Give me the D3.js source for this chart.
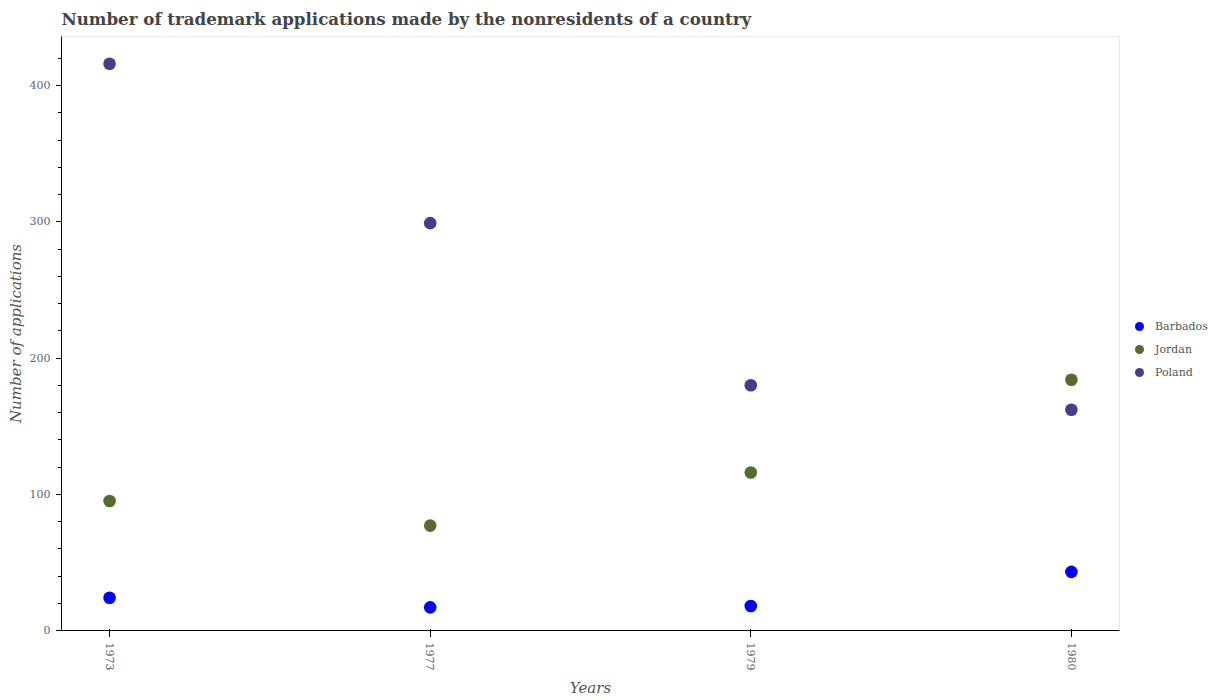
<!DOCTYPE html>
<html>
<head>
<meta charset="utf-8">
<script src="https://cdn.jsdelivr.net/npm/d3@7"></script>
<style>
  body { margin: 0; background: #fff; }
  text { font-family: "DejaVu Serif", serif; }
</style>
</head>
<body>
<svg width="1217" height="700"></svg>
<script>
// values
var years = ["1973", "1977", "1979", "1980"];
var barbados = [24, 17, 18, 43];
var jordan = [95, 77, 116, 184];
var poland = [416, 299, 180, 162];
var seriesNames = ["Barbados", "Jordan", "Poland"];
var seriesColors = ["#0000ff", "#556b2f", "#483d8b"];
var seriesValues = [barbados, jordan, poland];
var yMajor = [0, 100, 200, 300, 400];
var yMinor = d3.range(0, 437, 20);

var margin = {top: 36.5, right: 97.5, bottom: 69.5, left: 61.5},
  width = 1217 - margin.left - margin.right,
  height = 700 - margin.top - margin.bottom;

var svg = d3.select("svg");

var x = d3.scalePoint().domain(years).range([margin.left, margin.left + width]).padding(0.15);
var y = d3.scaleLinear().domain([0, 436]).range([margin.top + height, margin.top]);

// plot frame, only top and right show
svg.append("path")
  .attr("d", "M" + margin.left + "," + margin.top + "H" + (margin.left + width) + "V" + (margin.top + height))
  .attr("fill", "none")
  .attr("stroke", "#e6e6e6")
  .attr("stroke-width", 1);

// minor ticks
svg.append("g")
  .attr("transform", "translate(" + margin.left + ",0)")
  .call(d3.axisLeft(y).offset(0).tickValues(yMinor).tickSize(4).tickFormat(""))
  .call(function(g) { g.select(".domain").remove(); })
  .selectAll("line").attr("shape-rendering", "crispEdges");

// y axis
var yAxis = svg.append("g")
  .attr("transform", "translate(" + margin.left + ",0)")
  .call(d3.axisLeft(y).offset(0).tickValues(yMajor).tickSize(6).tickPadding(5).tickSizeOuter(0));
yAxis.selectAll("line").attr("shape-rendering", "crispEdges");
yAxis.selectAll("text").attr("font-size", 11).attr("fill", "#666").style("font-family", '"DejaVu Serif", serif');

// x axis, ticks cross the line
var xAxis = svg.append("g")
  .attr("transform", "translate(0," + (margin.top + height) + ")")
  .call(d3.axisBottom(x).offset(0).tickSize(6).tickSizeOuter(0));
xAxis.selectAll(".tick line").attr("y1", -2).attr("y2", 6).attr("shape-rendering", "crispEdges");
xAxis.selectAll(".tick text")
  .attr("transform", "rotate(90)")
  .attr("x", 12)
  .attr("y", 0)
  .attr("dy", "0.35em")
  .attr("text-anchor", "start")
  .attr("font-size", 11)
  .attr("fill", "#666")
  .style("font-family", '"DejaVu Serif", serif');

// points
seriesValues.forEach(function(vals, i) {
  svg.append("g").selectAll("circle")
    .data(vals)
    .enter().append("circle")
    .attr("cx", function(d, j) { return x(years[j]); })
    .attr("cy", function(d) { return y(d); })
    .attr("r", 6.3)
    .attr("fill", seriesColors[i]);
});

// title and axis labels
svg.append("text")
  .attr("x", 61.5)
  .attr("y", 25)
  .attr("font-size", 16.66)
  .attr("font-weight", "bold")
  .attr("fill", "#444")
  .text("Number of trademark applications made by the nonresidents of a country");

svg.append("text")
  .attr("x", 590.5)
  .attr("y", 692.5)
  .attr("text-anchor", "middle")
  .attr("font-size", 15)
  .attr("font-style", "italic")
  .attr("fill", "#555")
  .text("Years");

svg.append("text")
  .attr("transform", "translate(21,333.5) rotate(-90)")
  .attr("text-anchor", "middle")
  .attr("font-size", 15)
  .attr("font-style", "italic")
  .attr("fill", "#555")
  .text("Number of applications");

// legend
seriesNames.forEach(function(name, i) {
  var ly = 326.5 + i * 23;
  svg.append("circle")
    .attr("cx", 1139.5)
    .attr("cy", ly)
    .attr("r", 4.5)
    .attr("fill", seriesColors[i]);
  svg.append("text")
    .attr("x", 1155)
    .attr("y", ly)
    .attr("dy", "0.35em")
    .attr("font-size", 11)
    .attr("fill", "#555")
    .text(name);
});
</script>
</body>
</html>
